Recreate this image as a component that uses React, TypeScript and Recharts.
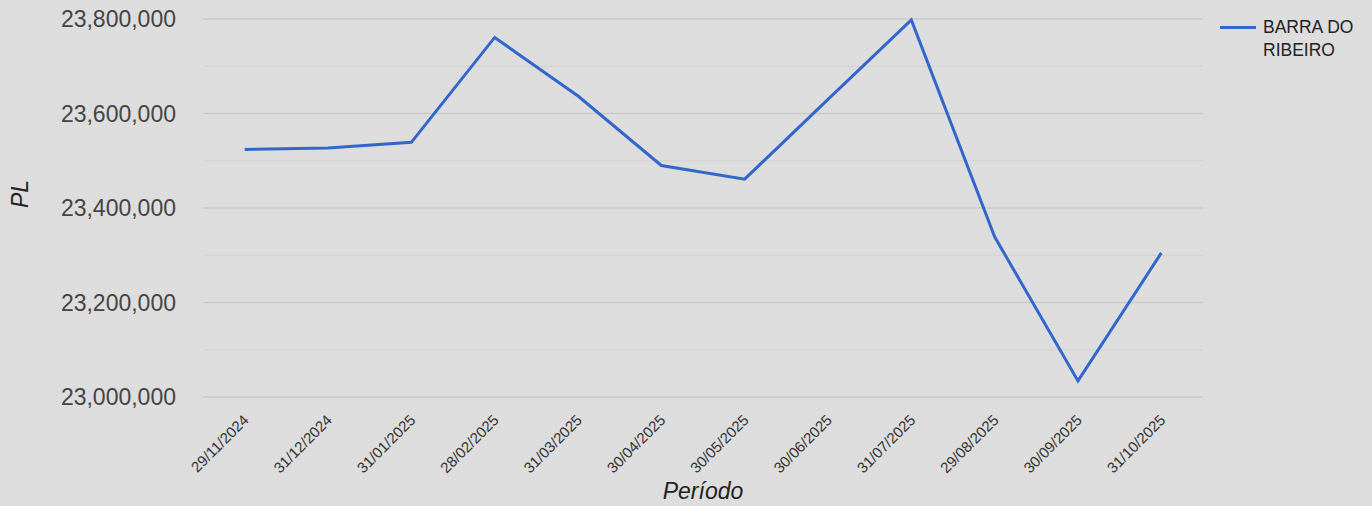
import React from 'react';
import { LineChart, Line, XAxis, YAxis, CartesianGrid, Legend, ReferenceLine } from 'recharts';

const categories = ['29/11/2024', '31/12/2024', '31/01/2025', '28/02/2025', '31/03/2025', '30/04/2025', '30/05/2025', '30/06/2025', '31/07/2025', '29/08/2025', '30/09/2025', '31/10/2025'];
const seriesValues = [23524000, 23527000, 23539000, 23761000, 23637000, 23490000, 23461000, 23630000, 23798000, 23339000, 23034000, 23305000];
const seriesName = 'BARRA DO RIBEIRO';
const yTicks = [23000000, 23200000, 23400000, 23600000, 23800000];
const yMinorLines = [23100000, 23300000, 23500000, 23700000];

const data = categories.map((c, i) => ({ periodo: c, value: seriesValues[i] }));

const FONT = '"Liberation Sans", Arial, sans-serif';

const XTick = (props: any) => {
  const { x, y, payload } = props;
  const ax = x + 5;
  const ay = y + 16;
  return (
    <text x={ax} y={ay} textAnchor="end" fontSize={15} fill="#333" fontFamily={FONT} transform={`rotate(-45 ${ax} ${ay})`}>
      {payload.value}
    </text>
  );
};

const LegendContent = () => (
  <div style={{ display: 'flex', alignItems: 'flex-start', fontFamily: FONT, fontSize: 17.5, color: '#222', lineHeight: '23px' }}>
    <div style={{ width: 36, height: 3, background: '#3366cc', marginTop: 10, marginRight: 7, flexShrink: 0 }} />
    <div style={{ width: 110 }}>{seriesName}</div>
  </div>
);

export default function App() {
  return (
    <div style={{ position: 'absolute', left: 0, top: 0, width: 1372, height: 506, background: '#dddddd' }}>
      <LineChart width={1372} height={506} data={data} margin={{ top: 19, right: 19, left: 0, bottom: 0 }} style={{ fontFamily: FONT }}>
        <CartesianGrid vertical={false} stroke="#c9c9c9" strokeWidth={1.5} />
        {yMinorLines.map((v) => (
          <ReferenceLine key={v} y={v} stroke="#d5d5d5" strokeWidth={1.5} />
        ))}
        <XAxis
          dataKey="periodo"
          interval={0}
          axisLine={false}
          tickLine={false}
          padding={{ left: 41.67, right: 41.67 }}
          height={109}
          tick={<XTick />}
          label={{ value: 'Período', position: 'insideBottom', offset: 7, fontSize: 23, fontStyle: 'italic', fill: '#222', fontFamily: FONT }}
        />
        <YAxis
          domain={[23000000, 23800000]}
          ticks={yTicks}
          width={203}
          axisLine={false}
          tickLine={false}
          tickSize={0}
          tickMargin={27}
          tick={{ fontSize: 23, fill: '#444', fontFamily: FONT }}
          tickFormatter={(v: number) => v.toLocaleString('en-US')}
          label={{ value: 'PL', angle: -90, position: 'insideLeft', offset: 20, fontSize: 23, fontStyle: 'italic', fill: '#222', fontFamily: FONT }}
        />
        <Legend
          layout="horizontal"
          verticalAlign="middle"
          align="right"
          content={<LegendContent />}
          wrapperStyle={{ position: 'absolute', left: 1220, top: 16, width: 150, height: 50 }}
        />
        <Line type="linear" dataKey="value" name={seriesName} stroke="#3366cc" strokeWidth={3} dot={false} isAnimationActive={false} />
      </LineChart>
    </div>
  );
}
